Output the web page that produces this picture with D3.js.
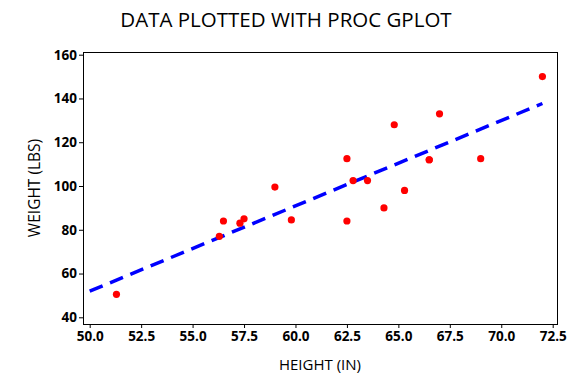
<!DOCTYPE html>
<html lang="en">
<head>
<meta charset="UTF-8">
<title>Data plotted with PROC GPLOT</title>
<script src="https://d3js.org/d3.v7.min.js"></script>
<style>
  body { margin: 0; background: #fff; }
  text { font-family: "Open Sans", "DejaVu Sans", sans-serif; }
</style>
</head>
<body>
<script>

    // heights (in) and weights (lbs)
    var height = [69.0, 56.5, 65.3, 62.8, 63.5, 57.3, 59.8, 62.5, 62.5, 59.0,
                  51.3, 64.3, 56.3, 66.5, 72.0, 64.8, 67.0, 57.5, 66.5];
    var weight = [112.5, 84.0, 98.0, 102.5, 102.5, 83.0, 84.5, 112.5, 84.0, 99.5,
                  50.5, 90.0, 77.0, 112.0, 150.0, 128.0, 133.0, 85.0, 112.0];
    var xTicks = [50, 52.5, 55, 57.5, 60, 62.5, 65, 67.5, 70, 72.5];
    var yTicks = [40, 60, 80, 100, 120, 140, 160];
    var lineX = [50, 72];

    var svg = d3.select("body").append("svg")
        .attr("width", 576)
        .attr("height", 384);

    var x = d3.scaleLinear().domain([50, 72.5]).range([89.7, 552.7]);
    var y = d3.scaleLinear().domain([40, 160]).range([317.3, 54.7]);

    var frame = { left: 83, right: 557, top: 52, bottom: 324 };

    // least squares fit
    var mx = d3.mean(height), my = d3.mean(weight);
    var sxy = d3.sum(height, function (h, i) { return (h - mx) * (weight[i] - my); });
    var sxx = d3.sum(height, function (h) { return (h - mx) * (h - mx); });
    var slope = sxy / sxx, icpt = my - slope * mx;

    svg.append("text")
        .attr("x", 286).attr("y", 27)
        .attr("text-anchor", "middle")
        .attr("font-size", 20.5)
        .text("DATA PLOTTED WITH PROC GPLOT");

    var xAxis = svg.append("g")
        .attr("transform", "translate(0," + frame.bottom + ")")
        .call(d3.axisBottom(x).tickValues(xTicks).tickFormat(d3.format(".1f")).tickSize(4).tickPadding(3));
    var yAxis = svg.append("g")
        .attr("transform", "translate(" + frame.left + ",0)")
        .call(d3.axisLeft(y).tickValues(yTicks).tickSize(4).tickPadding(2));

    [xAxis, yAxis].forEach(function (g) {
        g.select(".domain").remove();
        g.selectAll("line").attr("stroke", "#000");
        g.selectAll("text")
            .attr("fill", "#000")
            .attr("font-size", 13.5)
            .attr("font-weight", "bold")
            .attr("font-family", "\"Open Sans\", \"DejaVu Sans\", sans-serif");
    });

    svg.append("rect")
        .attr("x", frame.left + 0.5).attr("y", frame.top + 0.5)
        .attr("width", frame.right - frame.left).attr("height", frame.bottom - frame.top)
        .attr("fill", "none")
        .attr("stroke", "#000")
        .attr("stroke-width", 1);

    svg.append("text")
        .attr("x", 320).attr("y", 370)
        .attr("text-anchor", "middle")
        .attr("font-size", 15)
        .text("HEIGHT (IN)");

    svg.append("text")
        .attr("transform", "translate(40,188) rotate(-90)")
        .attr("text-anchor", "middle")
        .attr("font-size", 15.5)
        .text("WEIGHT (LBS)");

    svg.append("path")
        .datum(lineX)
        .attr("d", d3.line()
            .x(function (d) { return x(d); })
            .y(function (d) { return y(icpt + slope * d); }))
        .attr("fill", "none")
        .attr("stroke", "#0000ff")
        .attr("stroke-width", 3.5)
        .attr("stroke-dasharray", "14,8");

    svg.selectAll(".pt")
        .data(height)
        .enter()
            .append("circle")
            .attr("class", "pt")
            .attr("cx", function (d) { return x(d); })
            .attr("cy", function (d, i) { return y(weight[i]); })
            .attr("r", 3.6)
            .attr("fill", "#ff0000");

</script>
</body>
</html>
